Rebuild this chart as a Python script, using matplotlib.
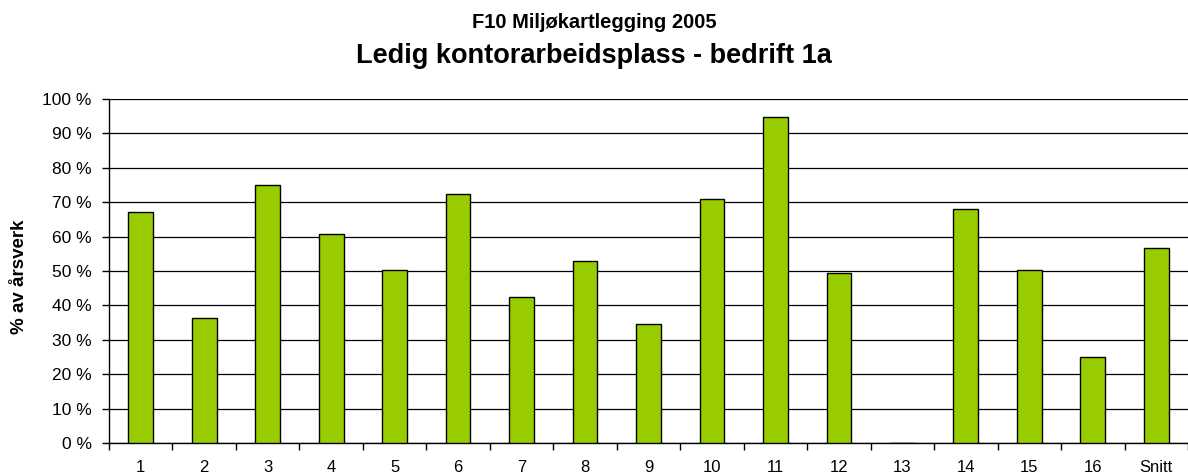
import matplotlib
matplotlib.use("Agg")
import matplotlib.pyplot as plt
from matplotlib.ticker import FixedLocator, FuncFormatter
import numpy as np

categories = ["1", "2", "3", "4", "5", "6", "7", "8", "9", "10", "11", "12", "13", "14", "15", "16", "Snitt"]
values = [67.2, 36.4, 75.0, 60.8, 50.3, 72.4, 42.4, 52.9, 34.7, 70.9, 94.8, 49.4, 0.0, 68.0, 50.4, 25.0, 56.7]
yticks = list(range(0, 101, 10))

plt.rcParams['font.family'] = ['Liberation Sans', 'DejaVu Sans']

fig = plt.figure(figsize=(11.88, 4.76), dpi=100)
ax = fig.add_axes([109/1188, 1-443/476, 1-109/1188, (443-99)/476])

x = np.arange(len(categories))
ax.bar(x, values, width=0.39, color="#99CC00", edgecolor="black", linewidth=1.0, zorder=3)

ax.set_xlim(-0.5, len(categories) - 0.5)
ax.set_ylim(0, 100)
ax.set_yticks(yticks)
ax.yaxis.set_major_formatter(FuncFormatter(lambda v, p: f"{int(v)} %"))
ax.grid(axis='y', color='black', linewidth=0.9, zorder=0)

ax.set_xticks(x)
ax.set_xticklabels(categories, fontsize=12)
ax.xaxis.set_minor_locator(FixedLocator(np.arange(-0.5, len(categories), 1.0)))
ax.tick_params(axis='x', which='major', length=0, pad=12)
ax.tick_params(axis='x', which='minor', length=5, width=1, direction='out')
ax.tick_params(axis='y', length=5, width=1, direction='out', labelsize=12.5, pad=7.5)

for s in ['top', 'right']:
    ax.spines[s].set_visible(False)
ax.spines['left'].set_linewidth(1.0)
ax.spines['bottom'].set_linewidth(1.0)

ax.set_ylabel("% av årsverk", fontsize=13.5, fontweight='bold')
ax.yaxis.set_label_coords(-(109-28)/1079, (443-277)/344)

fig.text(0.5, 1-22/476, "F10 Miljøkartlegging 2005", ha='center', va='center', fontsize=14.5, fontweight='bold')
fig.text(0.5, 1-56/476, "Ledig kontorarbeidsplass - bedrift 1a", ha='center', va='center', fontsize=19.5, fontweight='bold')

fig.savefig("out.png", dpi=100)
